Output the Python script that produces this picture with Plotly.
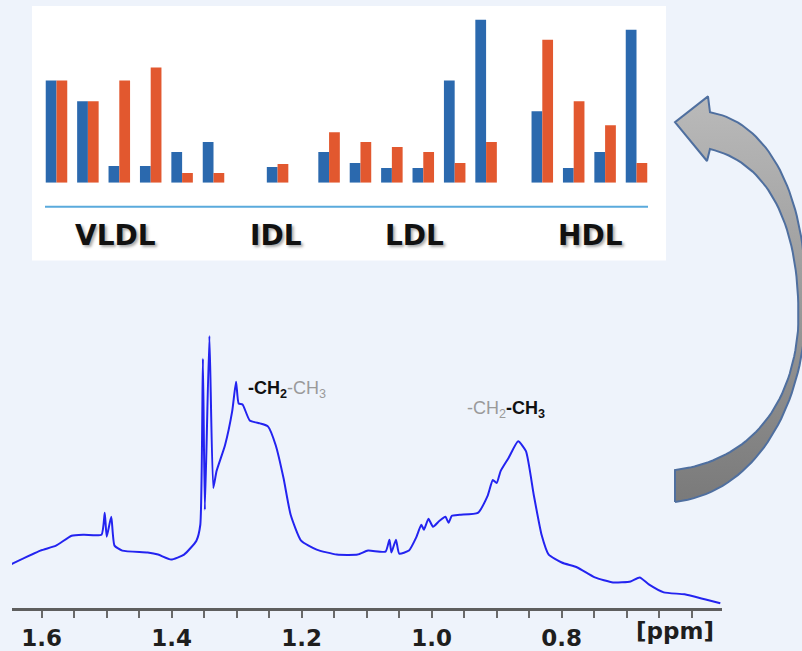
import numpy as np
import plotly.graph_objects as go

W, H = 802, 651

# ---------------- data ----------------
# NMR spectrum (chemical shift in ppm, relative intensity)
ppm = [1.648, 1.602, 1.578, 1.554, 1.535, 1.508, 1.503, 1.500, 1.493, 1.488,
       1.476, 1.437, 1.421, 1.401, 1.381, 1.362, 1.356, 1.352, 1.349, 1.342,
       1.336, 1.331, 1.318, 1.307, 1.301, 1.297, 1.291, 1.280, 1.264, 1.252,
       1.240, 1.228, 1.217, 1.201, 1.177, 1.146, 1.114, 1.098, 1.071, 1.065,
       1.062, 1.055, 1.050, 1.035, 1.024, 1.016, 1.012, 1.005, 0.998, 0.988,
       0.979, 0.974, 0.969, 0.957, 0.929, 0.914, 0.906, 0.900, 0.894, 0.882,
       0.867, 0.855, 0.843, 0.831, 0.820, 0.800, 0.776, 0.749, 0.721, 0.694,
       0.680, 0.666, 0.643, 0.611, 0.580, 0.556]
intensity = [44, 58, 63, 73, 74, 74, 96, 72, 92, 63,
             58, 56, 54, 49, 54, 68, 84, 251, 99, 274,
             121, 138, 164, 198, 228, 206, 205, 189, 186, 183,
             164, 131, 94, 68, 59, 54, 54, 58, 57, 69,
             56, 69, 55, 58, 71, 84, 79, 90, 82, 88,
             92, 86, 93, 94, 96, 113, 129, 126, 138, 151,
             168, 158, 114, 74, 54, 46, 41, 31, 26, 27,
             31, 24, 16, 14, 9, 5]
tick_vals = [1.6, 1.4, 1.2, 1.0, 0.8]
tick_text = ["1.6", "1.4", "1.2", "1.0", "0.8"]

# Lipoprotein subclass bars
groups = ["VLDL", "IDL", "LDL", "HDL"]
group_sizes = [6, 1, 6, 4]
blue_vals = [103, 82, 17, 17, 31, 41, 16, 31, 20, 15, 15, 103, 164, 72, 15, 31, 154]
red_vals = [103, 82, 103, 116, 10, 10, 19, 51, 41, 36, 31, 20, 41, 144, 82, 58, 20]

# ---------------- layout helpers ----------------
group_start = [0, 7.04, 8.68, 15.47]  # slot offsets of each group
bar_x = []
for g, n in enumerate(group_sizes):
    bar_x += [group_start[g] + i for i in range(n)]


def px(x):
    return x / W


def py(y):
    return 1 - y / H


def bez(p0, p1, p2, p3, n=40):
    t = np.linspace(0, 1, n)[:, None]
    p0, p1, p2, p3 = map(np.array, (p0, p1, p2, p3))
    return ((1 - t) ** 3 * p0 + 3 * (1 - t) ** 2 * t * p1
            + 3 * (1 - t) * t ** 2 * p2 + t ** 3 * p3)


# decorative curved arrow outline (screen pixels, y downward)
arrow_pts = np.vstack([
    bez((675, 505), (760, 495), (808, 400), (806, 300)),
    bez((806, 300), (806, 190), (765, 122), (710, 113)),
    np.array([(708, 97), (675, 123), (707, 162), (710, 150)]),
    bez((710, 150), (775, 165), (802, 240), (798, 333)),
    bez((798, 333), (790, 420), (740, 465), (675, 473)),
    np.array([(675, 505)]),
])

fig = go.Figure()

fig.add_trace(go.Scatter(
    x=ppm, y=intensity, mode="lines",
    line=dict(color="#2323f0", width=2, shape="spline", smoothing=0.5),
    xaxis="x", yaxis="y", showlegend=False, hoverinfo="skip"))

fig.add_trace(go.Bar(x=bar_x, y=blue_vals, marker=dict(color="#2b69ae", line=dict(width=0)),
                     xaxis="x2", yaxis="y2", showlegend=False))
fig.add_trace(go.Bar(x=bar_x, y=red_vals, marker=dict(color="#e2582f", line=dict(width=0)),
                     xaxis="x2", yaxis="y2", showlegend=False))

fig.add_trace(go.Scatter(
    x=arrow_pts[:, 0], y=H - arrow_pts[:, 1], mode="lines", fill="toself",
    fillgradient=dict(type="vertical", colorscale=[[0, "#7a7a7a"], [1, "#bababa"]]),
    line=dict(color="#4f6f9f", width=2),
    xaxis="x3", yaxis="y3", showlegend=False, hoverinfo="skip"))

shapes = []
# white inset box
shapes.append(dict(type="rect", xref="paper", yref="paper",
                   x0=px(32), x1=px(666), y0=py(262), y1=py(6),
                   fillcolor="white", line=dict(width=0), layer="below"))
# separator line under bars
shapes.append(dict(type="line", xref="paper", yref="paper",
                   x0=px(45), x1=px(648), y0=py(208), y1=py(208),
                   line=dict(color="#5aaadc", width=2)))

annotations = []
label_x = [115, 276, 414, 590]
for name, lx in zip(groups, label_x):
    annotations.append(dict(
        text=name, x=px(lx), y=py(237), xref="paper", yref="paper",
        xanchor="center", yanchor="middle", showarrow=False,
        font=dict(family="DejaVu Sans", size=28, weight="bold", color="#111111",
                  shadow="2px 2px 3px rgba(0,0,0,0.35)")))

annotations.append(dict(
    text="<b>-CH<sub>2</sub></b><span style='color:#9a9a9a'>-CH<sub>3</sub></span>",
    x=px(246), y=py(392), xref="paper", yref="paper", xanchor="left", yanchor="middle",
    showarrow=False, font=dict(family="Liberation Sans", size=18, color="#111111")))
annotations.append(dict(
    text="<span style='color:#9a9a9a'>-CH<sub>2</sub></span><b>-CH<sub>3</sub></b>",
    x=px(465), y=py(412), xref="paper", yref="paper", xanchor="left", yanchor="middle",
    showarrow=False, font=dict(family="Liberation Sans", size=18, color="#111111")))
annotations.append(dict(
    text="[ppm]", x=px(675), y=py(635), xref="paper", yref="paper",
    xanchor="center", yanchor="middle", showarrow=False,
    font=dict(family="DejaVu Sans", size=23, weight="bold", color="#1e1e1e")))

fig.update_layout(
    width=W, height=H, margin=dict(l=0, r=0, t=0, b=0),
    paper_bgcolor="#eef3fb", plot_bgcolor="rgba(0,0,0,0)",
    barmode="group", bargap=0.315, bargroupgap=0,
    shapes=shapes, annotations=annotations,
    xaxis=dict(domain=[px(12), px(722)], range=[1.6457, 0.5534], anchor="y",
               showline=True, linecolor="#5e5e5e", linewidth=3,
               showgrid=False, zeroline=False,
               tickvals=tick_vals, ticktext=tick_text,
               ticks="outside", ticklen=7, tickwidth=2, tickcolor="#6a6a6a",
               minor=dict(dtick=0.05, tick0=0, ticks="outside", ticklen=7,
                          tickwidth=2, tickcolor="#6a6a6a", showgrid=False),
               tickfont=dict(family="DejaVu Sans", size=23, weight="bold", color="#1e1e1e")),
    yaxis=dict(domain=[py(612), py(330)], range=[0, 282], visible=False),
    xaxis2=dict(domain=[0, 1], range=[-1.799, 23.74], anchor="y2", visible=False),
    yaxis2=dict(domain=[py(184), py(14)], range=[0, 170], visible=False),
    xaxis3=dict(domain=[0, 1], range=[0, W], anchor="y3", visible=False),
    yaxis3=dict(domain=[0, 1], range=[0, H], anchor="x3", visible=False),
)

fig.write_html("out.html", config={"displayModeBar": False},
               post_script="document.body.style.margin='0';"
                           "document.body.style.background='#eef3fb';")
